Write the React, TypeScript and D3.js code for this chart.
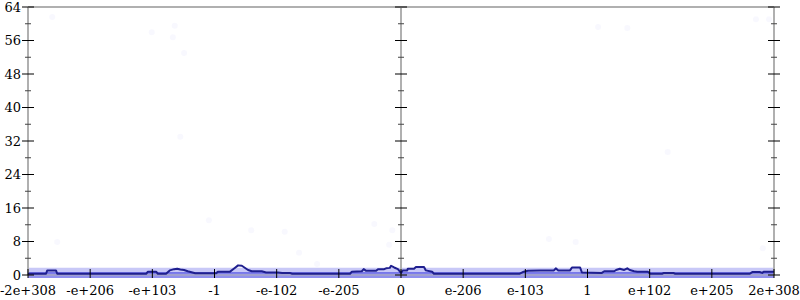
import React from "react";
import * as d3 from "d3";

// x domain: float bit-pattern position, expressed in tick units (-6 .. 6)
const xTickLabels = ["-2e+308", "-e+206", "-e+103", "-1", "-e-102", "-e-205", "0", "e-206", "e-103", "1", "e+102", "e+205", "2e+308"];
const yTicks = [0, 8, 16, 24, 32, 40, 48, 56, 64];
const yMinorTicks = [4, 12, 20, 28, 36, 44, 52, 60];

// moving-average line
const lineX = [-6.0, -5.71, -5.69, -5.55, -5.53, -4.10, -4.07, -3.94, -3.91, -3.78, -3.72, -3.65, -3.60, -3.55, -3.49, -3.43, -3.31, -2.98, -2.94, -2.75, -2.69, -2.62, -2.56, -2.46, -2.40, -2.24, -2.17, -1.98, -1.91, -1.79, -1.75, -0.82, -0.79, -0.63, -0.60, -0.56, -0.40, -0.37, -0.27, -0.24, -0.18, -0.16, -0.11, -0.05, 0.0, 0.03, 0.10, 0.11, 0.21, 0.24, 0.37, 0.40, 0.50, 0.53, 1.91, 1.96, 2.04, 2.24, 2.46, 2.49, 2.53, 2.72, 2.75, 2.88, 2.91, 3.23, 3.27, 3.43, 3.46, 3.52, 3.59, 3.64, 3.68, 3.75, 3.80, 3.97, 4.01, 4.20, 4.23, 4.38, 4.41, 5.61, 5.65, 5.77, 5.81, 5.84, 6.0];
const lineY = [0.3, 0.3, 1.1, 1.1, 0.3, 0.3, 0.8, 0.8, 0.3, 0.3, 1.1, 1.4, 1.5, 1.3, 1.2, 0.9, 0.4, 0.4, 0.8, 0.8, 1.5, 2.3, 2.2, 1.2, 0.9, 0.9, 0.6, 0.6, 0.5, 0.5, 0.3, 0.3, 0.8, 0.9, 1.4, 1.0, 1.0, 1.4, 1.4, 1.6, 1.7, 2.2, 1.8, 1.4, 0.5, 1.1, 1.1, 1.5, 1.5, 1.9, 1.9, 1.1, 0.8, 0.3, 0.3, 0.7, 1.0, 1.1, 1.1, 1.6, 1.1, 1.1, 1.8, 1.8, 0.6, 0.5, 0.9, 0.9, 1.2, 1.5, 1.2, 1.6, 1.2, 0.9, 0.8, 0.8, 0.3, 0.3, 0.5, 0.5, 0.3, 0.3, 0.7, 0.7, 0.5, 0.8, 0.8];

// dense sample levels (integer counts) forming the band
const bandLevels = [0, 1];
const bandOpacity = [0.55, 0.27];

// sparse outlier samples
const dotX = [-5.61, -4.01, -3.64, -3.67, -3.49, -3.55, -5.53, -3.09, -2.41, -1.87, -1.64, -1.35, -0.43, -0.14, -0.19, 2.38, 2.81, 5.82, 5.71, 5.92, 3.17, 3.64, 4.29];
const dotY = [61.6, 58.0, 59.5, 56.8, 53.0, 33.0, 7.9, 13.1, 10.7, 10.3, 5.3, 2.6, 12.2, 10.7, 7.2, 8.6, 7.9, 6.4, 61.1, 61.1, 59.2, 59.0, 29.4];

export default function App() {
  const x = d3.scaleLinear().domain([-6, 6]).range([28, 774]);
  const y = d3.scaleLinear().domain([0, 64]).range([275, 7]);
  const line = d3
    .line<number>()
    .x((_, i) => x(lineX[i]))
    .y((d) => y(d))
    .curve(d3.curveLinear);
  const font = "'DejaVu Serif', serif";
  const axisXs = [x(-6), x(0), x(6)];
  const grey = "#b0b0b0";
  return (
    <svg width={800} height={300} style={{ position: "absolute", left: 0, top: 0, background: "#fff" }}>
      {/* band of dense samples */}
      {bandLevels.map((lv, i) => (
        <line key={"b" + i} x1={x(-6)} x2={x(6)} y1={y(lv)} y2={y(lv)} stroke="#3535e0" strokeOpacity={bandOpacity[i]} strokeWidth={6} />
      ))}
      {/* outlier dots */}
      {dotX.map((dx, i) => (
        <circle key={"d" + i} cx={x(dx)} cy={y(dotY[i])} r={3} fill="#3030f0" fillOpacity={0.035} />
      ))}
      {/* frame / axes */}
      <line x1={x(-6)} x2={x(6)} y1={y(64)} y2={y(64)} stroke={grey} strokeWidth={2} />
      <line x1={x(-6)} x2={x(6)} y1={y(0)} y2={y(0)} stroke={grey} strokeWidth={1} />
      {axisXs.map((ax, i) => (
        <line key={"ax" + i} x1={ax} x2={ax} y1={y(0)} y2={y(64)} stroke={grey} strokeWidth={2} />
      ))}
      {/* moving average line */}
      <path d={line(lineY) || ""} fill="none" stroke="#1f1f8f" strokeWidth={2} strokeLinejoin="round" />
      {/* y ticks */}
      {axisXs.map((ax, j) => (
        <g key={"yt" + j}>
          {yTicks.map((t) => (
            <line key={t} x1={ax - 6} x2={ax + 6} y1={y(t)} y2={y(t)} stroke="#000" strokeWidth={1} />
          ))}
          {yMinorTicks.map((t) => (
            <line key={"m" + t} x1={ax - 3} x2={ax + 3} y1={y(t)} y2={y(t)} stroke="#444" strokeWidth={1} />
          ))}
        </g>
      ))}
      {yTicks.map((t) => (
        <text key={"yl" + t} x={21} y={y(t)} dy="0.36em" textAnchor="end" fontFamily={font} fontSize={13} fill="#000">
          {t}
        </text>
      ))}
      {/* x ticks */}
      {xTickLabels.map((lab, i) => {
        const v = i - 6;
        return (
          <g key={"xt" + i}>
            <line x1={x(v)} x2={x(v)} y1={269} y2={278} stroke="#000" strokeWidth={1} />
            <text x={x(v)} y={295} textAnchor="middle" fontFamily={font} fontSize={13} fill="#000">
              {lab}
            </text>
          </g>
        );
      })}
    </svg>
  );
}
